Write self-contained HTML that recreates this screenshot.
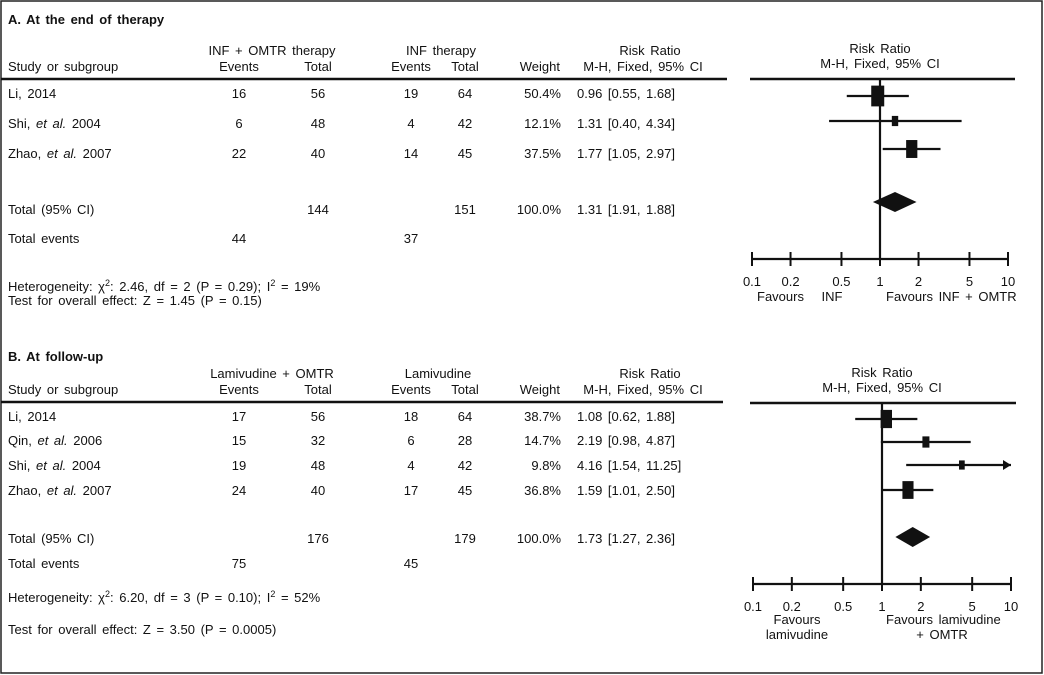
<!DOCTYPE html>
<html><head><meta charset="utf-8"><style>
html,body{margin:0;padding:0;background:#fff}
svg{display:block}
text{font-family:"Liberation Sans",Arial,sans-serif;font-size:13px;fill:#111;word-spacing:2px}
.b{font-weight:bold}
.c{text-anchor:middle}.r{text-anchor:end}
</style></head><body>
<svg id="s" width="1044" height="675" viewBox="0 0 1044 675">
<rect x="1" y="1" width="1041" height="672" fill="none" stroke="#222" stroke-width="1.5"/>

<g>
<text x="8" y="24" class="b">A. At the end of therapy</text>
<text x="272" y="55" class="c">INF + OMTR therapy</text>
<text x="441" y="55" class="c">INF therapy</text>
<text x="650" y="55" class="c">Risk Ratio</text>
<text x="8" y="71">Study or subgroup</text>
<text x="239" y="71" class="c">Events</text><text x="318" y="71" class="c">Total</text>
<text x="411" y="71" class="c">Events</text><text x="465" y="71" class="c">Total</text>
<text x="560" y="71" class="r">Weight</text><text x="643" y="71" class="c">M-H, Fixed, 95% CI</text>
<line x1="1" y1="79" x2="727" y2="79" stroke="#111" stroke-width="2.5"/>
<text x="8" y="98">Li, 2014</text><text x="239" y="98" class="c">16</text><text x="318" y="98" class="c">56</text><text x="411" y="98" class="c">19</text><text x="465" y="98" class="c">64</text><text x="561" y="98" class="r">50.4%</text><text x="577" y="98">0.96 [0.55, 1.68]</text>
<text x="8" y="128">Shi, <tspan font-style="italic">et al.</tspan> 2004</text><text x="239" y="128" class="c">6</text><text x="318" y="128" class="c">48</text><text x="411" y="128" class="c">4</text><text x="465" y="128" class="c">42</text><text x="561" y="128" class="r">12.1%</text><text x="577" y="128">1.31 [0.40, 4.34]</text>
<text x="8" y="158">Zhao, <tspan font-style="italic">et al.</tspan> 2007</text><text x="239" y="158" class="c">22</text><text x="318" y="158" class="c">40</text><text x="411" y="158" class="c">14</text><text x="465" y="158" class="c">45</text><text x="561" y="158" class="r">37.5%</text><text x="577" y="158">1.77 [1.05, 2.97]</text>
<text x="8" y="214">Total (95% CI)</text><text x="318" y="214" class="c">144</text><text x="465" y="214" class="c">151</text><text x="561" y="214" class="r">100.0%</text><text x="577" y="214">1.31 [1.91, 1.88]</text>
<text x="8" y="243">Total events</text><text x="239" y="243" class="c">44</text><text x="411" y="243" class="c">37</text>
<text x="8" y="291">Heterogeneity: χ<tspan dy="-5" font-size="9">2</tspan><tspan dy="5">: 2.46, df = 2 (P = 0.29); I</tspan><tspan dy="-5" font-size="9">2</tspan><tspan dy="5"> = 19%</tspan></text>
<text x="8" y="305">Test for overall effect: Z = 1.45 (P = 0.15)</text>
</g>

<g>
<text x="8" y="361" class="b">B. At follow-up</text>
<text x="272" y="378" class="c">Lamivudine + OMTR</text>
<text x="438" y="378" class="c">Lamivudine</text>
<text x="650" y="378" class="c">Risk Ratio</text>
<text x="8" y="394">Study or subgroup</text>
<text x="239" y="394" class="c">Events</text><text x="318" y="394" class="c">Total</text>
<text x="411" y="394" class="c">Events</text><text x="465" y="394" class="c">Total</text>
<text x="560" y="394" class="r">Weight</text><text x="643" y="394" class="c">M-H, Fixed, 95% CI</text>
<line x1="1" y1="402" x2="723" y2="402" stroke="#111" stroke-width="2.5"/>
<text x="8" y="421">Li, 2014</text><text x="239" y="421" class="c">17</text><text x="318" y="421" class="c">56</text><text x="411" y="421" class="c">18</text><text x="465" y="421" class="c">64</text><text x="561" y="421" class="r">38.7%</text><text x="577" y="421">1.08 [0.62, 1.88]</text>
<text x="8" y="445">Qin, <tspan font-style="italic">et al.</tspan> 2006</text><text x="239" y="445" class="c">15</text><text x="318" y="445" class="c">32</text><text x="411" y="445" class="c">6</text><text x="465" y="445" class="c">28</text><text x="561" y="445" class="r">14.7%</text><text x="577" y="445">2.19 [0.98, 4.87]</text>
<text x="8" y="470">Shi, <tspan font-style="italic">et al.</tspan> 2004</text><text x="239" y="470" class="c">19</text><text x="318" y="470" class="c">48</text><text x="411" y="470" class="c">4</text><text x="465" y="470" class="c">42</text><text x="561" y="470" class="r">9.8%</text><text x="577" y="470">4.16 [1.54, 11.25]</text>
<text x="8" y="495">Zhao, <tspan font-style="italic">et al.</tspan> 2007</text><text x="239" y="495" class="c">24</text><text x="318" y="495" class="c">40</text><text x="411" y="495" class="c">17</text><text x="465" y="495" class="c">45</text><text x="561" y="495" class="r">36.8%</text><text x="577" y="495">1.59 [1.01, 2.50]</text>
<text x="8" y="543">Total (95% CI)</text><text x="318" y="543" class="c">176</text><text x="465" y="543" class="c">179</text><text x="561" y="543" class="r">100.0%</text><text x="577" y="543">1.73 [1.27, 2.36]</text>
<text x="8" y="568">Total events</text><text x="239" y="568" class="c">75</text><text x="411" y="568" class="c">45</text>
<text x="8" y="602">Heterogeneity: χ<tspan dy="-5" font-size="9">2</tspan><tspan dy="5">: 6.20, df = 3 (P = 0.10); I</tspan><tspan dy="-5" font-size="9">2</tspan><tspan dy="5"> = 52%</tspan></text>
<text x="8" y="634">Test for overall effect: Z = 3.50 (P = 0.0005)</text>
</g>
</svg>
<script>
const tickValues=[0.1,0.2,0.5,1,2,5,10];
const tickLabels=["0.1","0.2","0.5","1","2","5","10"];
const aEst=[0.96,1.31,1.77];
const aLo=[0.55,0.40,1.05];
const aHi=[1.68,4.34,2.97];
const aWeight=[50.4,12.1,37.5];
const aTotal=[1.31,0.88,1.93];
const bEst=[1.08,2.19,4.16,1.59];
const bLo=[0.62,0.98,1.54,1.01];
const bHi=[1.88,4.87,11.25,2.50];
const bWeight=[38.7,14.7,9.8,36.8];
const bTotal=[1.73,1.27,2.36];
const NS='http://www.w3.org/2000/svg';
const svg=document.getElementById('s');
function mk(tag,attrs,parent){const e=document.createElementNS(NS,tag);for(const k in attrs)e.setAttribute(k,attrs[k]);(parent||svg).appendChild(e);return e;}
function panel(cfg){
  const g=mk('g',{});
  
  
  const x=v=>cfg.x1+Math.log10(Math.min(v,10))*cfg.scale;
  const t1=mk('text',{x:cfg.cx,y:cfg.topLine-26,class:'c'},g);t1.textContent='Risk Ratio';
  const t2=mk('text',{x:cfg.cx,y:cfg.topLine-11,class:'c'},g);t2.textContent='M-H, Fixed, 95% CI';
  mk('line',{x1:cfg.lx0,x2:cfg.lx1,y1:cfg.topLine,y2:cfg.topLine,stroke:'#111','stroke-width':2.5},g);
  const ref=mk('line',{x1:x(1),x2:x(1),y1:cfg.topLine,y2:cfg.axisY,stroke:'#111','stroke-width':2.2},g);
  
  
  const ax=mk('line',{x1:x(0.1),x2:x(10),y1:cfg.axisY,y2:cfg.axisY,stroke:'#111','stroke-width':2.2},g);
  
  
  tickValues.forEach((v,i)=>{
    mk('line',{x1:x(v),x2:x(v),y1:cfg.axisY-7,y2:cfg.axisY+7,stroke:'#111','stroke-width':2},g);
    const tl=mk('text',{x:x(v),y:cfg.axisY+27,class:'c'},g);
    
    
    tl.textContent=tickLabels[i];
  });
  cfg.est.forEach((e,i)=>{
    const y=cfg.rows[i];
    const hiC=Math.min(cfg.hi[i],10);
    const l=mk('line',{x1:x(cfg.lo[i]),x2:x(hiC),y1:y,y2:y,stroke:'#111','stroke-width':2.2},g);
    
    
    if(cfg.hi[i]>10){mk('polygon',{points:`${x(10)},${y} ${x(10)-8},${y-5} ${x(10)-8},${y+5}`,fill:'#111'},g);}
    const w=1.83*Math.sqrt(cfg.w[i]);const h=w*1.6;
    const r=mk('rect',{x:x(e)-w/2,y:y-h/2,width:w,height:h,fill:'#111'},g);
    
    
  });
  const [te,tlo,thi]=cfg.total;const ty=cfg.diamondY;
  const d=mk('polygon',{points:`${x(tlo)},${ty} ${x(te)},${ty-10} ${x(thi)},${ty} ${x(te)},${ty+10}`,fill:'#111'},g);
  
  
  cfg.foot.forEach(f=>{const t=mk('text',{x:f[0],y:f[1],class:f[3]||''},g);t.textContent=f[2];});
}
panel({name:'forest-plot-a',x1:880,scale:128,lx0:750,lx1:1015,cx:880,topLine:79,axisY:259,
 est:aEst,lo:aLo,hi:aHi,w:aWeight,rows:[96,121,149],total:aTotal,diamondY:202,
 foot:[[757,301,'Favours'],[832,301,'INF','c'],[886,301,'Favours INF + OMTR']]});
panel({name:'forest-plot-b',x1:882,scale:129,lx0:750,lx1:1016,cx:882,topLine:403,axisY:584,
 est:bEst,lo:bLo,hi:bHi,w:bWeight,rows:[419,442,465,490],total:bTotal,diamondY:537,
 foot:[[797,624,'Favours','c'],[797,639,'lamivudine','c'],[886,624,'Favours lamivudine'],[942,639,'+ OMTR','c']]});
</script>
</body></html>
